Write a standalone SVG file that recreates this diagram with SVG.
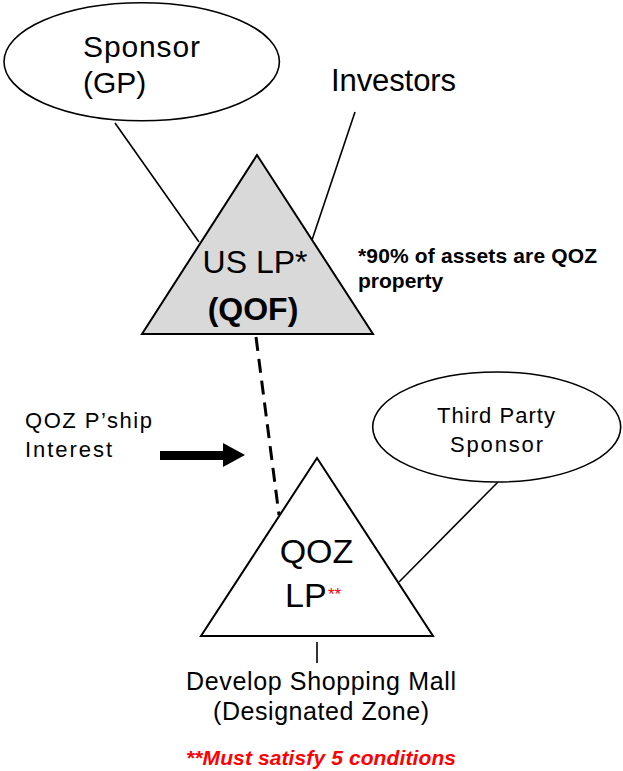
<svg xmlns="http://www.w3.org/2000/svg" width="623" height="771" viewBox="0 0 623 771">
  <style>
    .shape { fill: #ffffff; stroke: #000000; stroke-width: 1.6; }
    .tri { stroke: #000000; stroke-width: 2; stroke-linejoin: miter; }
    .link { stroke: #000000; stroke-width: 1.6; fill: none; }
    .dash { stroke: #000000; stroke-width: 3; stroke-dasharray: 14 8; fill: none; }
    .t { font-family: "Liberation Sans", Arial, sans-serif; fill: #000000; }
    .red { fill: #ff0000; }
  </style>

  <!-- connectors -->
  <g id="connectors">
    <line class="link" x1="115" y1="123" x2="199" y2="242"/>
    <line class="link" x1="355" y1="112" x2="312" y2="240"/>
    <line class="dash" x1="256" y1="337" x2="279" y2="515"/>
    <line class="link" x1="498" y1="482" x2="399" y2="582"/>
    <line class="link" x1="317" y1="642" x2="317" y2="663"/>
  </g>

  <!-- general partner -->
  <g id="sponsor-gp">
    <ellipse class="shape" cx="141.7" cy="61.7" rx="137.7" ry="59"/>
    <text class="t" x="83" y="57" font-size="30" textLength="117">Sponsor</text>
    <text class="t" x="83" y="93" font-size="30">(GP)</text>
  </g>

  <g id="investors">
    <text class="t" x="331" y="91" font-size="31" textLength="125">Investors</text>
  </g>

  <!-- qualified opportunity fund -->
  <g id="us-lp">
    <polygon class="tri" fill="#d9d9d9" points="257,155 142,334 373,334"/>
    <text class="t" x="255" y="273" font-size="32" text-anchor="middle">US LP*</text>
    <text class="t" x="253" y="320" font-size="32" font-weight="bold" text-anchor="middle">(QOF)</text>
  </g>

  <g id="qof-note">
    <text class="t" x="358" y="263" font-size="21" font-weight="bold" textLength="239">*90% of assets are QOZ</text>
    <text class="t" x="358" y="288" font-size="21" font-weight="bold">property</text>
  </g>

  <g id="pship-interest">
    <text class="t" x="25" y="428" font-size="22" textLength="127">QOZ P’ship</text>
    <text class="t" x="25" y="457" font-size="22" textLength="87">Interest</text>
    <polygon fill="#000000" points="160,451 223,451 223,443 245,455 223,467 223,460 160,460"/>
  </g>

  <g id="third-party-sponsor">
    <ellipse class="shape" cx="496.7" cy="427" rx="124" ry="55"/>
    <text class="t" x="496" y="423" font-size="22" text-anchor="middle" textLength="118">Third Party</text>
    <text class="t" x="496.5" y="452" font-size="22" text-anchor="middle" textLength="93">Sponsor</text>
  </g>

  <!-- opportunity zone partnership -->
  <g id="qoz-lp">
    <polygon class="tri" fill="#ffffff" points="317,458 201,636 433,636"/>
    <text class="t" x="316.5" y="563" font-size="34" text-anchor="middle">QOZ</text>
    <text class="t" x="285" y="607" font-size="34">LP</text>
    <text class="t red" x="328" y="600" font-size="17">**</text>
  </g>

  <g id="shopping-mall">
    <text class="t" x="321" y="690" font-size="25" text-anchor="middle" textLength="270">Develop Shopping Mall</text>
    <text class="t" x="321" y="720" font-size="25" text-anchor="middle" textLength="216">(Designated Zone)</text>
  </g>

  <g id="conditions">
    <text class="t red" x="321" y="765" font-size="21" font-weight="bold" font-style="italic" text-anchor="middle" textLength="270">**Must satisfy 5 conditions</text>
  </g>
</svg>
